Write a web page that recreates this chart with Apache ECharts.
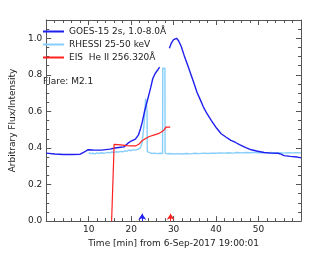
<!DOCTYPE html>
<html><head><meta charset="utf-8">
<script src="https://cdn.jsdelivr.net/npm/echarts@6/dist/echarts.min.js"></script>
<style>html,body{margin:0;padding:0;background:#fff}#c{width:311px;height:253px}</style>
</head><body><div id="c"></div>
<script>
// Series data: [minute, value]
const goes = [
 [0,0.372],[2,0.367],[4,0.364],[6,0.364],[8,0.366],[9,0.378],[9.8,0.390],[11,0.389],[13,0.388],
 [15,0.394],[16.2,0.400],[17.5,0.404],[18.3,0.406],[19.2,0.425],[20,0.438],[21,0.448],[21.7,0.470],
 [22.2,0.505],[22.6,0.540],[23.2,0.605],[24.0,0.675],[24.6,0.730],[25.1,0.780],[25.6,0.805],
 [26.2,0.825],[26.7,0.842],[27.8,null],[29.0,0.945],[29.5,0.975],[30.0,0.993],[30.7,1.000],
 [31.2,0.985],[31.8,0.955],[32.5,0.905],[33.3,0.854],[34.1,0.800],[34.8,0.754],[35.5,0.705],
 [36.3,0.663],[37.0,0.625],[37.8,0.590],[38.9,0.550],[40.1,0.509],[41.2,0.478],[42.3,0.460],
 [43.5,0.442],[44.6,0.430],[45.5,0.418],[47,0.402],[48.3,0.390],[49.8,0.382],[51.3,0.375],
 [53,0.372],[54.5,0.371],[55.3,0.366],[56,0.358],[57.5,0.354],[59,0.351],[60,0.346]
];
const rhessi = [
 [10.0,0.375],[10.5,0.369],[11,0.371],[11.5,0.368],[12,0.373],[12.5,0.370],[13,0.374],[13.5,0.371],
 [14,0.373],[14.5,0.376],[15,0.374],[15.5,0.378],[16,0.376],[16.5,0.379],[17,0.377],[17.5,0.381],
 [18,0.379],[18.5,0.384],[19,0.382],[19.5,0.389],[20,0.385],[20.5,0.391],[21,0.388],[21.6,0.392],
 [22.2,0.402],[22.6,0.430],[23.0,0.520],[23.2,0.580],[23.4,0.670],[23.6,0.640],[23.75,0.600],
 [23.8,0.380],[24.2,0.373],[24.8,0.370],[25.5,0.372],[26.2,0.369],[26.8,0.371],[27.4,0.370],
 [27.45,0.836],[27.95,0.836],[28.0,0.372],[28.5,0.368],[29,0.370],[30,0.367],[31,0.369],[32,0.367],
 [33,0.370],[34,0.368],[35,0.371],[36,0.369],[37,0.372],[38,0.370],[39,0.372],[40,0.371],
 [41,0.373],[42,0.372],[43,0.374],[44,0.372],[45,0.375],[46,0.373],[47,0.375],[48,0.374],
 [49,0.376],[50,0.374],[51,0.375],[52,0.373],[53,0.375],[54,0.373],[55,0.374],[56,0.372],
 [57,0.374],[58,0.373],[59,0.374],[60,0.373]
];
const eis = [
 [15.4,0.0],[16.0,0.420],[17,0.418],[18,0.416],[19,0.413],[20,0.412],[21,0.411],[21.8,0.420],
 [22.5,0.438],[23.3,0.450],[24.3,0.463],[25.5,0.472],[26.6,0.480],[27.3,0.490],[27.8,0.500],
 [28.2,0.514],[29.2,0.514]
];
const seriesNames = ['GOES-15 2s, 1.0-8.0Å','RHESSI 25-50 keV','EIS  He II 256.320Å'];
const arrowTimes = [22.6, 29.3];
const arrowLen = 0.04;
const xTicks = [0, 60, 10];
const yTicks = [0, 1.1, 0.2];

const font = 'DejaVu Sans';
const axisCol = '#555';
const chart = echarts.init(document.getElementById('c'), null, {renderer:'canvas'});
function xAx(pos, show){
 return {type:'value', position:pos, min:xTicks[0], max:xTicks[1], interval:xTicks[2],
  axisLine:{show:true, onZero:false, lineStyle:{color:axisCol, width:1}},
  axisTick:{show:true, inside:true, length:5, lineStyle:{color:axisCol}},
  minorTick:{show:true, splitNumber:5, length:3, lineStyle:{color:axisCol}},
  splitLine:{show:false},
  axisLabel:{show:show, showMinLabel:false, showMaxLabel:false, margin:4, color:'#222', fontFamily:font, fontSize:9},
  name: show ? 'Time [min] from 6-Sep-2017 19:00:01' : '', nameLocation:'middle', nameGap:16,
  nameTextStyle:{color:'#222', fontFamily:font, fontSize:9}};
}
function yAx(pos, show){
 return {type:'value', position:pos, min:yTicks[0], max:yTicks[1], interval:yTicks[2],
  axisLine:{show:true, onZero:false, lineStyle:{color:axisCol, width:1}},
  axisTick:{show:true, inside:true, length:5, lineStyle:{color:axisCol}},
  minorTick:{show:true, splitNumber:4, length:3, lineStyle:{color:axisCol}},
  splitLine:{show:false},
  axisLabel:{show:show, showMaxLabel:false, margin:4, color:'#222', fontFamily:font, fontSize:9,
   formatter:v=>v.toFixed(1)},
  name: show ? 'Arbitrary Flux/Intensity' : '', nameLocation:'middle', nameGap:26,
  nameTextStyle:{color:'#222', fontFamily:font, fontSize:9}};
}
function arrow(t, color){
 return {silent:true, symbol:['none','arrow'], symbolSize:6, label:{show:false},
  lineStyle:{color:color, width:1, type:'solid'},
  data:[[{coord:[t,0]},{coord:[t,arrowLen]}]]};
}
chart.setOption({
 animation:false,
 backgroundColor:'#fff',
 grid:{left:35, right:10, top:20, bottom:31},
 xAxis:[xAx('bottom', true), xAx('top', false)],
 yAxis:[yAx('left', true), yAx('right', false)],
 legend:{orient:'vertical', left:42, top:27, padding:0, itemWidth:21, itemHeight:8, itemGap:4,
  itemStyle:{opacity:0},
  textStyle:{color:'#222', fontFamily:font, fontSize:9}, data:seriesNames},
 graphic:[{type:'text', left:43, top:77, style:{text:'Flare: M2.1', fill:'#222', font:'9px "DejaVu Sans"'}}],
 series:[
  {name:seriesNames[1], type:'line', data:rhessi, symbol:'none', lineStyle:{color:'#87cefa', width:1.4}, itemStyle:{color:'#87cefa'}, z:2},
  {name:seriesNames[0], type:'line', data:goes, symbol:'none', connectNulls:false, lineStyle:{color:'#1f1ff0', width:1.4}, itemStyle:{color:'#1f1ff0'}, z:3,
   markLine:arrow(arrowTimes[0], '#1f1ff0')},
  {name:seriesNames[2], type:'line', data:eis, symbol:'none', lineStyle:{color:'#ff2020', width:1.2}, itemStyle:{color:'#ff2020'}, z:4,
   markLine:arrow(arrowTimes[1], '#ff2020')}
 ]
});
</script></body></html>
